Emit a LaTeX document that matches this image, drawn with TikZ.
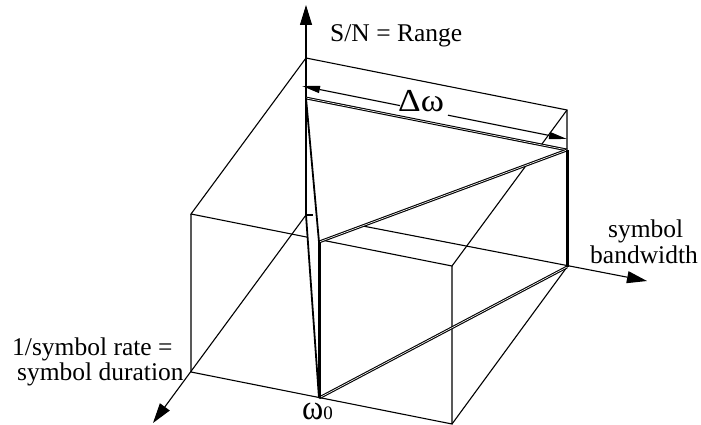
\documentclass[tikz,border=0pt]{standalone}
\usepackage{fontspec}
\setmainfont{Liberation Serif}
\usetikzlibrary{arrows.meta}
\begin{document}
\begin{tikzpicture}[x=1pt,y=-1pt,
  edge/.style={line width=1.1pt},
  axisarrow/.style={edge,-{Triangle[length=20pt,width=12pt]}},
  dimarrow/.style={edge,-{Triangle[length=18pt,width=7pt]}},
  wedge/.style={draw,line width=1.1pt,double=white,double distance=0.6pt},
  heavy/.style={line width=3pt},
  medium/.style={line width=1.8pt},
  lbl/.style={font=\fontsize{25.5}{25}\selectfont,inner sep=0pt},
  greek/.style={inner sep=0pt}]
\useasboundingbox (0,0) rectangle (701,425);
% box corners
\coordinate (G) at (306,215);
\coordinate (H) at (567,267);
\coordinate (A) at (306,58);
\coordinate (B) at (567,110);
\coordinate (C) at (191,214);
\coordinate (D) at (452,266);
\coordinate (E) at (191,372);
\coordinate (F) at (452,424);
% axis tips
\coordinate (up) at (306,5);
\coordinate (bw) at (647,281);
\coordinate (dp) at (153,423);
% wedge points
\coordinate (P1) at (306,98);
\coordinate (P2) at (567,150);
\coordinate (R) at (319,242);
\coordinate (Q) at (319,398);
\coordinate (Gs) at (313,215);
% dimension line
\coordinate (dl) at (302,86);
\coordinate (dlg) at (400,105.6);
\coordinate (drg) at (448,115.2);
\coordinate (dr) at (567,139);

% thin box
\draw[edge] (A) -- (B) -- (H);
\draw[edge] (A) -- (C) -- (D) -- (B);
\draw[edge] (C) -- (E) -- (F) -- (D);
\draw[edge] (H) -- (F);
% axes
\draw[axisarrow] (G) -- (up);
\draw[axisarrow] (G) -- (bw);
\draw[axisarrow] (G) -- (dp);

% opaque faces
\fill[white] (P1) -- (P2) -- (R) -- cycle;
\fill[white] (P1) -- (G) -- (Q) -- (R) -- cycle;
\draw[edge] (G) -- (Gs);

% wedge edges
\draw[wedge] (P1) -- (P2);
\draw[wedge] (R) -- (P2);
\draw[wedge] (Q) -- (H);
\draw[heavy] (P2) -- (H);
\draw[heavy] (R) -- (Q);
\draw[heavy,line width=2.4pt] (P1) -- (G);
\draw[medium] (G) -- (Q);
\draw[medium] (P1) -- (R);

% dimension
\draw[dimarrow] (dlg) -- (dl);
\draw[dimarrow] (drg) -- (dr);
\node[greek,anchor=base west] (dw) at (398,112) {\fontsize{32}{32}\selectfont\scalebox{1.1}[1]{Δω}};

% labels
\node[lbl,anchor=base west] (sn) at (330,42) {S/N = Range};
\node[lbl,anchor=base west] (bw1) at (608,237) {symbol};
\node[lbl,anchor=base west] (bw2) at (590,263) {bandwidth};
\node[lbl,anchor=base west] (sr1) at (12,355) {1/symbol rate =};
\node[lbl,anchor=base west] (sr2) at (17,380) {symbol duration};
\node[greek,anchor=base west,text depth=0pt] (om) at (302,419.5) {\fontsize{28}{28}\selectfont\scalebox{1.15}[1.25]{ω}\fontsize{19}{19}\selectfont 0};
\end{tikzpicture}
\end{document}
